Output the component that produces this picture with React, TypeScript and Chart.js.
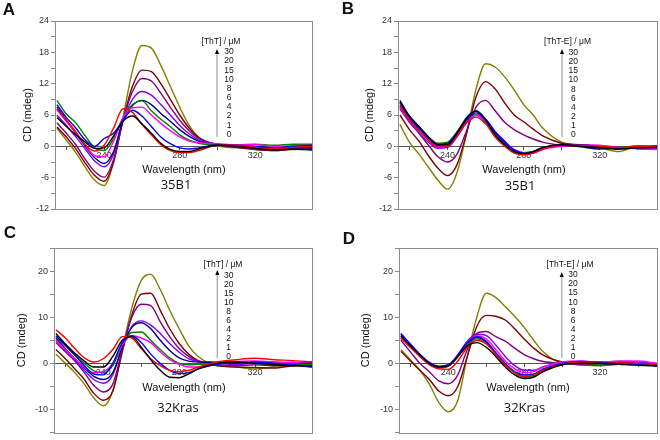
import React, { useEffect, useRef } from 'react';
import { Chart, registerables } from 'chart.js';
Chart.register(...registerables);

// ---------- data ----------
const wavelengths = [215, 220, 225, 230, 235, 240, 245, 250, 255, 260, 265, 270, 275, 280, 285, 290, 300, 310, 320, 330, 340, 350];
const concentrations = [0, 1, 2, 4, 6, 8, 10, 15, 20, 30];
const legendNumbers = ['30', '20', '15', '10', '8', '6', '4', '2', '1', '0'];
const lineColors = ['#000000', '#ff0000', '#0000ff', '#ff00ff', '#008000', '#000080', '#8000ff', '#800080', '#800000', '#808000'];
const xTickValues = [220, 240, 260, 280, 300, 320, 340];
const xLabelValues = [240, 280, 320];

// Panel A: 35B1 + ThT
const a0 = [5.5, 3.8, 2.2, 0.8, -0.4, -0.3, 2.0, 4.8, 5.8, 4.3, 2.5, 0.6, -0.6, -1.0, -1.0, -0.5, 0.2, 0.0, -0.4, -0.7, -0.5, -0.7];
const a1 = [7.2, 5.0, 2.8, 0.3, -0.9, 0.2, 3.5, 7.2, 6.5, 4.2, 2.2, 0.3, -0.8, -1.2, -1.2, -0.8, 0.2, 0.2, -0.2, -0.5, -0.2, 0.0];
const a2 = [8.0, 5.5, 3.5, 1.2, 0.0, 1.5, 2.5, 5.0, 6.9, 5.8, 3.8, 1.8, 0.5, -0.3, -0.5, -0.3, 0.3, 0.2, 0.0, -0.3, 0.0, 0.2];
const a4 = [7.0, 4.8, 2.6, 0.3, -1.8, -2.0, 1.0, 5.5, 7.4, 7.5, 6.0, 4.4, 3.0, 1.8, 1.0, 0.7, 0.5, 0.3, 0.3, 0.0, 0.1, 0.2];
const a6 = [8.8, 6.2, 4.5, 2.0, -0.3, -0.8, 1.5, 5.5, 8.0, 8.7, 6.8, 5.2, 3.8, 2.2, 1.2, 0.6, 0.3, 0.3, 0.4, 0.2, 0.4, 0.4];
const a8 = [7.5, 5.0, 2.5, 0.0, -2.2, -3.3, -1.0, 5.0, 7.8, 8.8, 8.0, 6.3, 4.8, 3.2, 1.9, 1.0, 0.4, 0.1, -0.1, -0.3, -0.2, -0.3];
const a10 = [6.0, 4.0, 1.8, -0.5, -2.8, -3.9, -1.5, 5.0, 9.0, 10.5, 9.8, 8.0, 6.0, 4.0, 2.4, 1.2, 0.4, 0.0, -0.3, -0.4, -0.3, -0.2];
const a15 = [4.5, 2.5, 0.3, -2.5, -4.8, -5.9, -2.5, 5.0, 10.5, 13.0, 12.5, 10.2, 7.5, 5.0, 3.0, 1.5, 0.4, 0.0, -0.5, -0.7, -0.5, -0.3];
const a20 = [3.7, 1.8, -0.5, -3.2, -5.6, -6.7, -3.0, 5.0, 11.5, 14.6, 14.3, 12.0, 9.0, 6.0, 3.5, 1.7, 0.3, -0.2, -0.6, -0.8, -0.5, -0.4];
const a30 = [3.5, 1.2, -1.2, -4.0, -6.5, -7.5, -3.0, 5.5, 14.5, 19.3, 18.8, 15.5, 11.5, 7.5, 4.0, 1.8, 0.1, -0.3, -0.6, -0.8, -0.6, -0.6];

// Panel B: 35B1 + ThT-E
const b0 = [8.5, 5.8, 3.8, 1.8, 0.3, 0.3, 2.5, 5.3, 6.7, 5.0, 2.2, 0.3, -1.0, -1.4, -1.0, -0.2, 0.3, 0.0, -0.3, -0.5, -0.3, -0.2];
const b1 = [7.8, 5.0, 3.0, 1.2, -0.2, 0.0, 2.0, 4.5, 5.6, 4.3, 1.8, 0.0, -1.3, -1.6, -1.3, -0.5, 0.2, 0.2, 0.0, -0.2, 0.0, 0.0];
const b2 = [8.3, 5.5, 3.5, 1.5, 0.2, 0.5, 2.6, 5.0, 6.4, 5.2, 2.8, 1.0, -0.8, -1.4, -1.2, -0.5, 0.4, 0.3, -0.1, -0.5, -0.3, 0.1];
const b4 = [7.5, 5.0, 3.0, 1.2, 0.0, 0.2, 2.2, 4.8, 5.9, 4.8, 2.3, 0.3, -1.0, -1.5, -1.3, -0.6, 0.0, 0.3, 0.2, -0.2, -0.5, -0.6];
const b6 = [8.0, 5.3, 3.4, 1.6, 0.6, 0.8, 2.8, 5.2, 6.0, 4.5, 2.0, 0.2, -1.0, -1.3, -1.0, -0.3, 0.2, 0.0, 0.0, -0.2, 0.1, 0.0];
const b8 = [8.8, 5.8, 3.8, 1.8, 0.5, 0.6, 2.7, 5.5, 6.8, 5.2, 2.5, 0.6, -0.8, -1.3, -1.0, -0.3, 0.3, -0.1, -0.5, -0.3, -0.1, -0.2];
const b10 = [7.2, 4.6, 2.6, 0.8, -0.4, -0.2, 1.8, 4.5, 6.0, 5.2, 2.8, 0.8, -0.6, -1.2, -1.0, -0.4, 0.2, 0.1, -0.2, -0.3, -0.4, -0.5];
const b15 = [7.5, 4.8, 2.5, 0.2, -2.0, -3.0, -1.5, 3.0, 7.5, 8.8, 6.8, 4.6, 3.2, 2.2, 1.4, 0.8, 0.2, 0.0, -0.2, -0.2, -0.4, -0.5];
const b20 = [6.0, 3.2, 1.0, -1.8, -4.2, -5.6, -3.5, 2.5, 9.5, 12.4, 11.0, 8.3, 6.0, 4.7, 3.3, 2.0, 0.6, 0.2, -0.2, -0.3, -0.2, -0.3];
const b30 = [4.2, 0.8, -1.5, -4.0, -6.5, -8.2, -5.0, 2.5, 11.0, 15.8, 15.2, 13.3, 10.8, 8.0, 6.0, 3.5, 0.8, 0.2, -0.3, -1.0, 0.0, 0.0];

// Panel C: 32Kras + ThT
const c0 = [6.5, 4.2, 2.2, 0.5, -0.8, -0.8, 1.5, 5.0, 5.8, 3.5, 0.8, -1.5, -3.0, -3.1, -2.3, -1.2, 0.0, 0.3, 0.0, -0.3, -0.5, -0.5];
const c1 = [7.3, 5.5, 3.2, 1.2, 0.3, 1.0, 3.0, 5.8, 5.5, 3.2, 1.0, -0.5, -1.5, -1.8, -1.5, -0.8, 0.3, 0.8, 1.1, 0.8, 0.6, 0.3];
const c2 = [6.0, 4.0, 1.8, -0.5, -2.3, -2.5, 0.0, 4.5, 6.0, 4.5, 2.0, 0.0, -1.5, -2.2, -2.0, -1.2, -0.2, 0.0, 0.3, 0.0, -0.3, -0.8];
const c4 = [5.0, 3.0, 1.0, -0.8, -2.0, -1.8, 0.0, 4.0, 6.0, 5.5, 4.5, 2.5, 0.8, -0.2, -0.8, -0.8, 0.2, 0.4, 0.5, 0.3, 0.2, 0.4];
const c6 = [5.8, 3.8, 1.8, 0.0, -1.6, -2.0, -0.5, 4.0, 6.7, 6.8, 5.0, 3.0, 1.2, 0.0, -0.3, -0.2, 0.0, 0.1, 0.0, -0.2, -0.2, -0.3];
const c8 = [5.5, 3.2, 1.0, -1.0, -2.8, -3.5, -2.0, 3.5, 7.8, 8.8, 7.5, 5.0, 2.8, 1.2, 0.5, 0.3, 0.2, 0.0, 0.0, 0.1, 0.2, 0.1];
const c10 = [5.0, 2.8, 0.8, -1.5, -3.5, -4.3, -2.5, 3.5, 8.0, 9.2, 8.3, 6.5, 4.3, 2.4, 1.0, 0.5, 0.2, -0.3, 0.2, 0.3, 0.0, 0.2];
const c15 = [4.5, 2.5, 0.5, -2.0, -4.8, -6.2, -4.5, 3.0, 10.0, 12.8, 12.5, 9.0, 5.8, 3.2, 1.5, 0.5, -0.3, -0.5, -0.3, -0.5, -0.2, 0.0];
const c20 = [3.0, 1.0, -1.2, -3.5, -6.5, -8.0, -6.0, 2.5, 10.5, 15.0, 15.2, 11.5, 7.5, 4.3, 2.0, 0.6, -0.5, -0.8, -0.9, -1.0, -0.5, -0.3];
const c30 = [2.0, 0.0, -2.0, -4.5, -7.5, -9.2, -6.0, 3.0, 12.0, 18.0, 19.3, 16.0, 11.5, 7.5, 3.8, 1.5, -0.5, -0.8, -1.2, -0.8, -0.5, -0.8];

// Panel D: 32Kras + ThT-E
const d0 = [6.0, 3.8, 1.8, 0.0, -0.8, -0.5, 1.5, 3.8, 4.5, 3.5, 1.5, -0.8, -2.5, -3.3, -3.0, -1.8, -0.3, 0.0, 0.0, -0.2, -0.4, -0.5];
const d1 = [5.5, 3.5, 1.5, -0.2, -1.2, -1.3, 0.5, 3.5, 5.0, 4.2, 2.0, -0.3, -2.0, -2.8, -2.5, -1.5, -0.2, 0.3, 0.0, 0.1, 0.0, -0.2];
const d2 = [6.5, 4.2, 2.0, 0.2, -0.6, -0.3, 1.8, 4.5, 5.8, 4.8, 2.3, 0.0, -1.8, -2.5, -2.3, -1.2, 0.0, 0.4, 0.2, 0.0, -0.3, -0.6];
const d4 = [5.8, 3.8, 1.8, 0.0, -0.7, -0.5, 1.5, 4.5, 6.0, 5.3, 3.0, 0.5, -1.2, -2.0, -1.8, -0.8, 0.3, 0.5, 0.2, 0.5, 0.5, 0.0];
const d6 = [5.8, 3.7, 1.6, -0.1, -0.9, -0.6, 1.4, 4.0, 5.3, 4.3, 2.0, -0.3, -2.0, -3.0, -2.8, -1.7, -0.3, 0.0, -0.2, 0.0, -0.2, -0.3];
const d8 = [6.3, 4.0, 1.9, 0.1, -0.8, -0.5, 1.6, 4.3, 5.6, 4.6, 2.2, -0.2, -1.9, -2.8, -2.6, -1.5, -0.1, 0.2, 0.0, -0.2, -0.2, -0.4];
const d10 = [5.5, 3.5, 1.5, -0.3, -1.0, -0.6, 1.8, 4.8, 6.3, 6.0, 4.0, 1.5, -0.5, -1.5, -1.5, -0.7, 0.2, 0.4, 0.3, 0.4, 0.3, 0.0];
const d15 = [5.0, 2.5, 0.0, -1.8, -3.8, -4.4, -2.5, 3.0, 6.5, 6.9, 5.8, 4.8, 3.3, 1.9, 1.0, 0.4, 0.0, -0.2, 0.0, 0.2, 0.0, -0.2];
const d20 = [2.6, 0.5, -1.5, -3.5, -6.0, -7.0, -5.0, 1.5, 8.0, 10.4, 10.2, 9.4, 7.5, 5.3, 3.3, 1.8, 0.3, -0.3, -0.3, -0.2, -0.3, -0.5];
const d30 = [3.0, 0.8, -1.5, -4.5, -8.5, -10.5, -8.0, 1.5, 10.0, 15.2, 14.3, 12.3, 10.2, 7.8, 5.0, 2.5, 0.0, -0.3, -0.5, -0.2, -0.2, -0.5];

const seriesA = [a0, a1, a2, a4, a6, a8, a10, a15, a20, a30];
const seriesB = [b0, b1, b2, b4, b6, b8, b10, b15, b20, b30];
const seriesC = [c0, c1, c2, c4, c6, c8, c10, c15, c20, c30];
const seriesD = [d0, d1, d2, d4, d6, d8, d10, d15, d20, d30];

// ---------- layout ----------
const SANS = '"Liberation Sans", Arial, sans-serif';
const W = 330;
const H = 220;

type PanelCfg = {
  letter: string; sample: string; ligand: string; series: number[][];
  left: number; top: number;
  area: { l: number; t: number; r: number; b: number };
  yMin: number; yMax: number; yMajor: number; yMinor: number;
  letterPos: [number, number]; yTitleX: number;
  wlPos: [number, number]; samplePos: [number, number];
  lg: { titleX: number; titleY: number; numX: number; numY0: number; step: number; arrowX: number; arrowTop: number; arrowBottom: number };
};

const panels: PanelCfg[] = [
  {
    letter: 'A', sample: '35B1', ligand: '[ThT] / μM', series: seriesA, left: 0, top: 0,
    area: { l: 55, t: 21, r: 312, b: 209 }, yMin: -12, yMax: 24, yMajor: 6, yMinor: 3,
    letterPos: [9, 10], yTitleX: 28, wlPos: [184, 170], samplePos: [176, 185],
    lg: { titleX: 221, titleY: 41.5, numX: 229, numY0: 52, step: 9.15, arrowX: 217, arrowTop: 49, arrowBottom: 137 },
  },
  {
    letter: 'B', sample: '35B1', ligand: '[ThT-E] / μM', series: seriesB, left: 330, top: 0,
    area: { l: 68, t: 21, r: 327, b: 209 }, yMin: -12, yMax: 24, yMajor: 6, yMinor: 3,
    letterPos: [18, 9], yTitleX: 40, wlPos: [194, 170], samplePos: [190, 186.5],
    lg: { titleX: 237.5, titleY: 42, numX: 243.3, numY0: 53, step: 9.05, arrowX: 232, arrowTop: 49, arrowBottom: 137 },
  },
  {
    letter: 'C', sample: '32Kras', ligand: '[ThT] / μM', series: seriesC, left: 0, top: 220,
    area: { l: 54, t: 28, r: 312, b: 216 }, yMin: -15, yMax: 25, yMajor: 10, yMinor: 5,
    letterPos: [10, 13], yTitleX: 21.7, wlPos: [184, 168.3], samplePos: [178, 188.3],
    lg: { titleX: 223, titleY: 44.3, numX: 228.7, numY0: 56, step: 8.96, arrowX: 217.3, arrowTop: 50, arrowBottom: 138 },
  },
  {
    letter: 'D', sample: '32Kras', ligand: '[ThT-E] / μM', series: seriesD, left: 330, top: 220,
    area: { l: 69, t: 28, r: 327, b: 216 }, yMin: -15, yMax: 25, yMajor: 10, yMinor: 5,
    letterPos: [19, 19], yTitleX: 36.2, wlPos: [198, 168.3], samplePos: [194.5, 188.3],
    lg: { titleX: 240, titleY: 44.3, numX: 243, numY0: 55, step: 9.07, arrowX: 231.7, arrowTop: 52, arrowBottom: 138 },
  },
];

function makeDecor(cfg: PanelCfg) {
  return {
    id: 'decor' + cfg.letter,
    beforeDatasetsDraw(chart: any) {
      const { ctx, chartArea: a } = chart;
      ctx.save();
      ctx.strokeStyle = '#8c8c8c';
      ctx.lineWidth = 1;
      ctx.strokeRect(Math.round(a.left) + 0.5, Math.round(a.top) + 0.5, Math.round(a.right - a.left), Math.round(a.bottom - a.top));
      ctx.restore();
    },
    afterDraw(chart: any) {
      const { ctx, chartArea: a } = chart;
      ctx.save();
      ctx.fillStyle = '#111';
      ctx.textAlign = 'center';
      ctx.textBaseline = 'middle';
      // panel letter
      ctx.font = 'bold 17px ' + SANS;
      ctx.fillText(cfg.letter, cfg.letterPos[0], cfg.letterPos[1]);
      // y title
      ctx.font = '11px ' + SANS;
      ctx.save();
      ctx.translate(cfg.yTitleX, (a.top + a.bottom) / 2);
      ctx.rotate(-Math.PI / 2);
      ctx.fillText('CD (mdeg)', 0, 0);
      ctx.restore();
      // x title & sample
      ctx.fillText('Wavelength (nm)', cfg.wlPos[0], cfg.wlPos[1]);
      ctx.font = '13px "Open Sans", ' + SANS;
      ctx.fillText(cfg.sample, cfg.samplePos[0], cfg.samplePos[1]);
      // legend
      const lg = cfg.lg;
      ctx.font = '8.5px ' + SANS;
      ctx.fillText(cfg.ligand, lg.titleX, lg.titleY);
      legendNumbers.forEach((t, i) => ctx.fillText(t, lg.numX, lg.numY0 + i * lg.step));
      ctx.strokeStyle = '#b4b4b4';
      ctx.lineWidth = 1.5;
      ctx.beginPath();
      ctx.moveTo(lg.arrowX, lg.arrowBottom);
      ctx.lineTo(lg.arrowX, lg.arrowTop + 4);
      ctx.stroke();
      ctx.fillStyle = '#000';
      ctx.beginPath();
      ctx.moveTo(lg.arrowX, lg.arrowTop);
      ctx.lineTo(lg.arrowX - 2, lg.arrowTop + 5);
      ctx.lineTo(lg.arrowX + 2, lg.arrowTop + 5);
      ctx.closePath();
      ctx.fill();
      ctx.restore();
    },
  };
}

function Panel({ cfg }: { cfg: PanelCfg }) {
  const ref = useRef<HTMLCanvasElement | null>(null);
  useEffect(() => {
    if (!ref.current) return;
    const tickFont = { family: SANS, size: 9 };
    const chart = new Chart(ref.current, {
      type: 'line',
      data: {
        datasets: cfg.series.map((vals, i) => ({
          label: concentrations[i] + ' μM',
          data: vals.map((y, j) => ({ x: wavelengths[j], y })),
          borderColor: lineColors[i],
          backgroundColor: lineColors[i],
          borderWidth: 1.4,
          pointRadius: 0,
          fill: false,
          cubicInterpolationMode: 'monotone' as const,
        })),
      },
      options: {
        animation: false,
        responsive: false,
        devicePixelRatio: 1,
        layout: { padding: { left: 0, top: cfg.area.t, right: W - cfg.area.r, bottom: H - cfg.area.b } },
        plugins: { legend: { display: false }, tooltip: { enabled: false } },
        scales: {
          x: {
            type: 'linear',
            position: { y: 0 } as any,
            min: 214,
            max: 350,
            afterBuildTicks: (s: any) => { s.ticks = xTickValues.map((v) => ({ value: v })); },
            ticks: {
              autoSkip: false, maxRotation: 0, font: tickFont, color: '#333', padding: 1,
              callback: (v: any) => (xLabelValues.includes(Number(v)) ? String(v) : ''),
            },
            grid: { drawOnChartArea: false, drawTicks: true, tickLength: 3, color: '#555' },
            border: { display: true, color: '#555', width: 1 },
          },
          y: {
            type: 'linear',
            position: 'left',
            min: cfg.yMin,
            max: cfg.yMax,
            afterFit: (s: any) => { s.width = cfg.area.l; },
            ticks: {
              stepSize: cfg.yMinor, autoSkip: false, font: tickFont, color: '#333', padding: 2,
              callback: (v: any) => (Number(v) % cfg.yMajor === 0 ? String(v) : ''),
            },
            grid: { drawOnChartArea: false, drawTicks: true, tickLength: 4, color: '#8c8c8c' },
            border: { display: true, color: '#8c8c8c', width: 1 },
          },
        },
      },
      plugins: [makeDecor(cfg)],
    } as any);
    return () => chart.destroy();
  }, [cfg]);
  return (
    <canvas
      ref={ref}
      width={W}
      height={H}
      style={{ position: 'absolute', left: cfg.left, top: cfg.top, width: W, height: H }}
    />
  );
}

export default function App() {
  return (
    <div style={{ position: 'fixed', left: 0, top: 0, width: 660, height: 440, background: '#fff', overflow: 'hidden' }}>
      {panels.map((p) => (
        <Panel key={p.letter} cfg={p} />
      ))}
    </div>
  );
}
